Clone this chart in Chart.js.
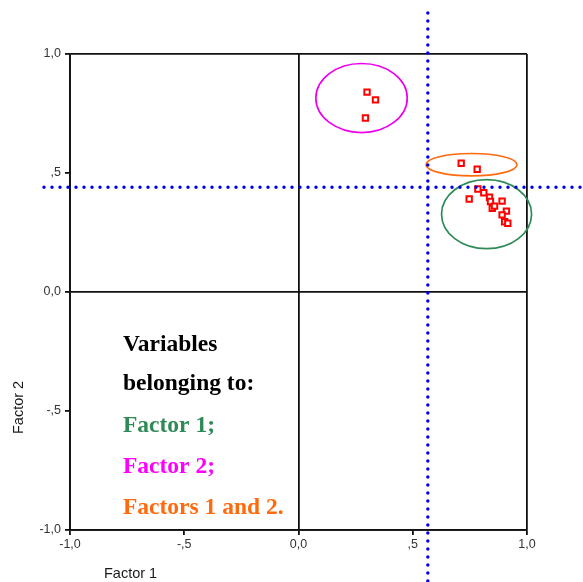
<!DOCTYPE html>
<html>
<head>
<meta charset="utf-8">
<script src="https://cdn.jsdelivr.net/npm/chart.js"></script>
<style>
  body { margin: 0; background: #fff; }
  canvas { display: block; }
</style>
</head>
<body>
<canvas id="chart" width="583" height="582"></canvas>
<script>
// loadings
var factor1 = [0.30, 0.337, 0.293, 0.712, 0.782, 0.785, 0.811, 0.747, 0.836, 0.840, 0.848, 0.858, 0.891, 0.910, 0.891, 0.902, 0.916];
var factor2 = [0.84, 0.807, 0.731, 0.541, 0.516, 0.433, 0.417, 0.391, 0.398, 0.380, 0.352, 0.361, 0.382, 0.340, 0.324, 0.295, 0.289];

var tickValues = [-1, -0.5, 0, 0.5, 1];
var tickLabels = ['-1,0', '-,5', '0,0', ',5', '1,0'];

// cut-off lines (dotted)
var cutFactor1 = 0.566;
var cutFactor2 = 0.44;

// groups circled on the plot: centre and radii in loading units
var groupNames = ['Factor 2', 'Factors 1 and 2', 'Factor 1'];
var groupCx = [0.276, 0.757, 0.823];
var groupCy = [0.815, 0.535, 0.327];
var groupRx = [0.200, 0.199, 0.197];
var groupRy = [0.145, 0.047, 0.145];

var legendLines = ['Variables', 'belonging to:', 'Factor 1;', 'Factor 2;', 'Factors 1 and 2.'];

var groupColors = ['#ee00ee', '#ff6a0d', '#2e8b57'];
var legendColors = ['#000', '#000', '#2e8b57', '#ff00ff', '#ff6a0d'];

var points = factor1.map(function (x, i) { return { x: x, y: factor2[i] }; });

function fmtTick(v) {
  var i = tickValues.indexOf(Math.round(v * 10) / 10);
  return i >= 0 ? tickLabels[i] : '';
}

function gridColor(c) {
  var v = c.tick ? c.tick.value : null;
  return (v === -1 || v === 0 || v === 1) ? '#111' : 'rgba(0,0,0,0)';
}

var extras = {
  id: 'extras',
  afterDatasetsDraw: function (chart) {
    var ctx = chart.ctx, sx = chart.scales.x, sy = chart.scales.y;
    ctx.save();
    // ellipses round the groups
    for (var i = 0; i < groupNames.length; i++) {
      var cx = sx.getPixelForValue(groupCx[i]);
      var cy = sy.getPixelForValue(groupCy[i]);
      var rx = Math.abs(sx.getPixelForValue(groupCx[i] + groupRx[i]) - cx);
      var ry = Math.abs(sy.getPixelForValue(groupCy[i] + groupRy[i]) - cy);
      ctx.beginPath();
      ctx.ellipse(cx, cy, rx, ry, 0, 0, Math.PI * 2);
      ctx.strokeStyle = groupColors[i];
      ctx.lineWidth = 1.7;
      ctx.stroke();
    }
    // dotted blue cut-off lines
    ctx.strokeStyle = '#0000ee';
    ctx.lineWidth = 3.4;
    ctx.lineCap = 'round';
    ctx.setLineDash([0, 8]);
    var hy = sy.getPixelForValue(cutFactor2);
    ctx.beginPath();
    ctx.moveTo(44, hy);
    ctx.lineTo(chart.width, hy);
    ctx.stroke();
    var vx = sx.getPixelForValue(cutFactor1);
    ctx.beginPath();
    ctx.moveTo(vx, 13);
    ctx.lineTo(vx, chart.height);
    ctx.stroke();
    ctx.setLineDash([]);

    // text block
    ctx.font = 'bold 23.5px "Liberation Serif", "Times New Roman", serif';
    ctx.textAlign = 'left';
    ctx.textBaseline = 'alphabetic';
    var baselines = [351, 390, 432, 473, 514];
    for (var j = 0; j < legendLines.length; j++) {
      ctx.fillStyle = legendColors[j];
      ctx.fillText(legendLines[j], 123, baselines[j]);
    }

    // axis titles
    ctx.fillStyle = '#1a1a1a';
    ctx.font = '14.5px "Liberation Sans", Arial, sans-serif';
    ctx.fillText('Factor 1', 104, 578);
    ctx.translate(23, 434);
    ctx.rotate(-Math.PI / 2);
    ctx.fillText('Factor 2', 0, 0);
    ctx.restore();
  }
};

new Chart(document.getElementById('chart').getContext('2d'), {
  type: 'scatter',
  data: {
    datasets: [{
      data: points,
      pointStyle: 'rect',
      pointRadius: 3.8,
      borderColor: '#ff0000',
      backgroundColor: '#ffffff',
      borderWidth: 2
    }]
  },
  options: {
    responsive: false,
    animation: false,
    layout: { padding: { top: 54, right: 56, left: 0, bottom: 0 } },
    plugins: { legend: { display: false }, tooltip: { enabled: false } },
    scales: {
      x: {
        min: -1, max: 1,
        afterFit: function (s) { s.height = 52; },
        afterBuildTicks: function (s) { s.ticks = tickValues.map(function (v) { return { value: v }; }); },
        grid: { color: gridColor, lineWidth: 1.8, tickColor: '#111', tickLength: 5, drawTicks: true },
        border: { display: true, color: '#111', width: 1.8 },
        ticks: {
          callback: fmtTick, padding: 2, maxRotation: 0, autoSkip: false,
          color: '#333', font: { family: '"Liberation Sans", Arial, sans-serif', size: 12.5 }
        }
      },
      y: {
        min: -1, max: 1,
        afterFit: function (s) { s.width = 70; },
        afterBuildTicks: function (s) { s.ticks = tickValues.map(function (v) { return { value: v }; }); },
        grid: { color: gridColor, lineWidth: 1.8, tickColor: '#111', tickLength: 5, drawTicks: true },
        border: { display: true, color: '#111', width: 1.8 },
        ticks: {
          callback: fmtTick, padding: 4, autoSkip: false,
          color: '#333', font: { family: '"Liberation Sans", Arial, sans-serif', size: 12.5 }
        }
      }
    }
  },
  plugins: [extras]
});
</script>
</body>
</html>
